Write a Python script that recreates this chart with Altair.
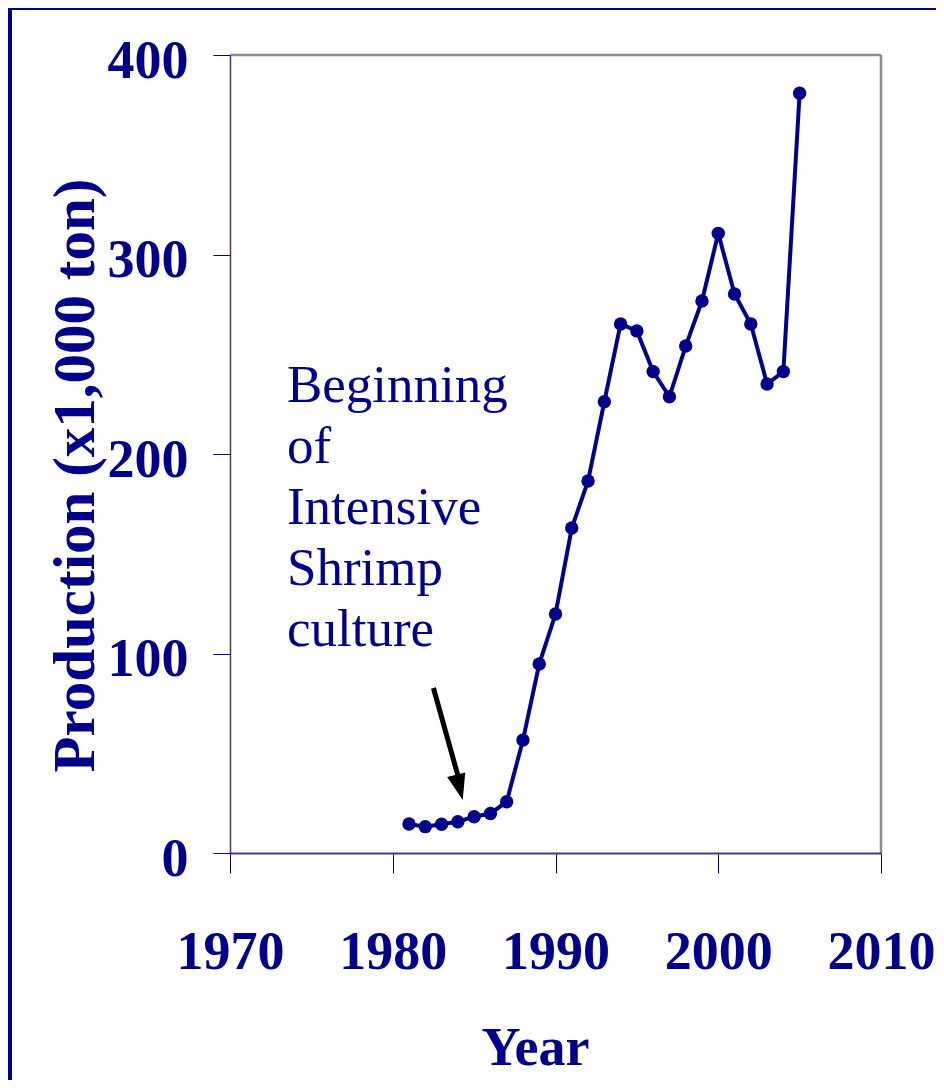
import altair as alt
import pandas as pd

# ---------------- data ----------------
years = list(range(1981, 2006))
production = [14.5, 13.2, 14.4, 15.7, 18.2, 19.8, 25.7, 56.6, 94.7, 119.8,
              162.9, 186.5, 226.2, 265.2, 261.7, 241.3, 228.7, 254.1, 276.7,
              310.6, 280.2, 265.2, 235.1, 241.3, 380.8]
x_ticks = [1970, 1980, 1990, 2000, 2010]
y_ticks = [0, 100, 200, 300, 400]
note_lines = ["Beginning", "of", "Intensive", "Shrimp", "culture"]
note_anchor = [1973.5, 226.1]
arrow_tail = [1982.5, 82.7]
arrow_base = [1984.0, 38.9]
arrow_tip = [1984.3, 26.6]

NAVY = "#000088"
FONT = "Liberation Serif"

df = pd.DataFrame({"x": years, "y": production})
frame_df = pd.DataFrame({"x": [1970, 2010], "x2": [2010, 2010],
                         "y": [400, 0], "y2": [400, 400]})
arrow_df = pd.DataFrame({"x": [arrow_tail[0]], "y": [arrow_tail[1]],
                         "x2": [arrow_base[0]], "y2": [arrow_base[1]]})
tip_df = pd.DataFrame({"x": [arrow_tip[0]], "y": [arrow_tip[1]]})
note_df = pd.DataFrame({"x": [note_anchor[0]], "y": [note_anchor[1]],
                        "t": ["\n".join(note_lines)]})
bg_df = pd.DataFrame({"a": [0]})

xs = alt.Scale(domain=[1970, 2010], nice=False, zero=False)
ys = alt.Scale(domain=[0, 400], nice=False, zero=False)

xaxis = alt.Axis(values=x_ticks, format="d", title="Year", grid=False,
                 labelFont=FONT, labelFontSize=54, labelFontWeight="bold",
                 labelColor=NAVY, labelBaseline="alphabetic", labelPadding=95,
                 labelFlush=False, labelOverlap=False,
                 tickSize=20, tickColor=NAVY, tickWidth=1,
                 domainColor="#404070", domainWidth=2,
                 titleFont=FONT, titleFontSize=54, titleFontWeight="bold",
                 titleColor=NAVY, titleX=305, titleY=211,
                 titleBaseline="alphabetic", titleAlign="center", zindex=1)
yaxis = alt.Axis(values=y_ticks, format="d", title="Production (x1,000 ton)",
                 grid=False,
                 labelFont=FONT, labelFontSize=54, labelFontWeight="bold",
                 labelColor=NAVY, labelBaseline="alphabetic", labelOffset=22,
                 labelPadding=25, labelOverlap=False,
                 tickSize=17, tickColor=NAVY, tickWidth=1,
                 domainColor="#404070", domainWidth=1.5,
                 titleFont=FONT, titleFontSize=59, titleFontWeight="bold",
                 titleColor=NAVY, titleAngle=270, titleX=-155, titleY=420,
                 titleBaseline="middle", titleAlign="center", zindex=1)

X = alt.X("x:Q", scale=xs, axis=xaxis)
Y = alt.Y("y:Q", scale=ys, axis=yaxis)

panel = alt.Chart(bg_df).mark_rect(color="white").encode(
    x=alt.value(-218), x2=alt.value(730), y=alt.value(-45), y2=alt.value(1040))

frame = alt.Chart(frame_df).mark_rule(color="#8c8c8c", strokeWidth=2.5).encode(
    x=X, x2="x2:Q", y=Y, y2="y2:Q")

line = alt.Chart(df).mark_line(color=NAVY, strokeWidth=4).encode(x=X, y=Y)
dots = alt.Chart(df).mark_circle(color=NAVY, size=180, opacity=1).encode(x=X, y=Y)

shaft = alt.Chart(arrow_df).mark_rule(color="black", strokeWidth=5).encode(
    x=X, y=Y, x2="x2:Q", y2="y2:Q")
head = alt.Chart(tip_df).mark_point(
    shape="M0,0L-0.36,-1L0.36,-1Z", filled=True, color="black", opacity=1,
    size=2704, angle=345.5, strokeWidth=0).encode(x=X, y=Y)

note = alt.Chart(note_df).mark_text(
    align="left", baseline="alphabetic", font=FONT, fontSize=53,
    color=NAVY, lineHeight=61, lineBreak="\n").encode(x=X, y=Y, text="t:N")

chart = alt.layer(panel, frame, line, dots, shaft, head, note).properties(
    width=651, height=798,
    autosize=alt.AutoSizeParams(type="none"),
    padding={"left": 222, "top": 47, "right": 55, "bottom": 227},
    background=NAVY,
).configure_view(stroke=None)

chart.save("out.html", embed_options={"renderer": "svg", "actions": False})
